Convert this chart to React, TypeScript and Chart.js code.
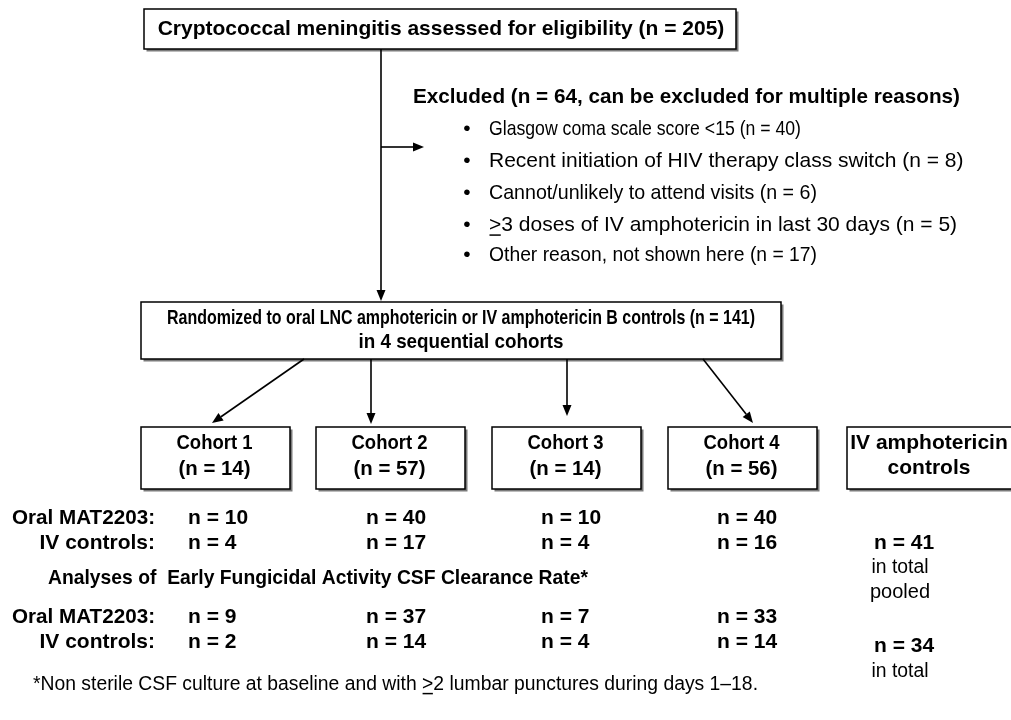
import React, { useEffect, useRef } from "react";
import { Chart, registerables } from "chart.js";

Chart.register(...registerables);

// ---- data ----
const screenedTitle = "Cryptococcal meningitis assessed for eligibility";
const screenedN = 205;
const excludedN = 64;
const exclusionReasons = [
  "Glasgow coma scale score <15",
  "Recent initiation of HIV therapy class switch",
  "Cannot/unlikely to attend visits",
  ">3 doses of IV amphotericin in last 30 days",
  "Other reason, not shown here",
];
const exclusionCounts = [40, 8, 6, 5, 17];
const randomizedN = 141;
const cohortNames = ["Cohort 1", "Cohort 2", "Cohort 3", "Cohort 4"];
const cohortTotals = [14, 57, 14, 56];
const enrolledOral = [10, 40, 10, 40];
const enrolledIV = [4, 17, 4, 16];
const efaOral = [9, 37, 7, 33];
const efaIV = [2, 14, 4, 14];
const pooledIVEnrolled = 41;
const pooledIVEfa = 34;

// ---- layout (in data units of a 1011 x 720 canvas) ----
const W = 1011;
const H = 720;
const FONT = "'Liberation Sans', Arial, Helvetica, sans-serif";

const flowPlugin = {
  id: "flow",
  afterDraw(chart: any) {
    const ctx: CanvasRenderingContext2D = chart.ctx;
    const sx = chart.scales.x;
    const sy = chart.scales.y;
    const X = (v: number) => sx.getPixelForValue(v);
    const Y = (v: number) => sy.getPixelForValue(v);

    ctx.save();
    ctx.fillStyle = "#fff";
    ctx.fillRect(0, 0, chart.width, chart.height);

    const box = (x0: number, y0: number, x1: number, y1: number) => {
      const a = X(x0), b = Y(y0), c = X(x1), d = Y(y1);
      ctx.fillStyle = "#7a7a7a";
      ctx.fillRect(a + 2.5, b + 2.5, c - a, d - b);
      ctx.fillStyle = "#fff";
      ctx.fillRect(a, b, c - a, d - b);
      ctx.strokeStyle = "#000";
      ctx.lineWidth = 1.5;
      ctx.strokeRect(a, b, c - a, d - b);
    };
    const setFont = (bold: boolean, size: number) => {
      ctx.font = `${bold ? "bold " : ""}${size}px ${FONT}`;
    };
    const text = (
      s: string,
      x: number,
      y: number,
      align: CanvasTextAlign = "center",
      bold = true,
      size = 21,
      maxW?: number
    ) => {
      setFont(bold, size);
      ctx.fillStyle = "#000";
      ctx.textAlign = align;
      ctx.textBaseline = "middle";
      const nat = ctx.measureText(s).width;
      if (maxW !== undefined && nat > maxW) {
        ctx.fillText(s, X(x), Y(y), maxW);
        return maxW;
      }
      ctx.fillText(s, X(x), Y(y));
      return nat;
    };
    const underlineFirst = (
      s: string,
      x: number,
      y: number,
      bold: boolean,
      size: number,
      squeeze = 1
    ) => {
      setFont(bold, size);
      const w = ctx.measureText(s[0]).width * squeeze;
      ctx.strokeStyle = "#000";
      ctx.lineWidth = 1.5;
      ctx.beginPath();
      ctx.moveTo(X(x) + 0.5, Y(y) + size * 0.48);
      ctx.lineTo(X(x) + w - 0.5, Y(y) + size * 0.48);
      ctx.stroke();
    };
    const arrow = (x0: number, y0: number, x1: number, y1: number) => {
      const a = X(x0), b = Y(y0), c = X(x1), d = Y(y1);
      ctx.strokeStyle = "#000";
      ctx.fillStyle = "#000";
      ctx.lineWidth = 1.6;
      const ang = Math.atan2(d - b, c - a);
      const L = 11, Wd = 4.5;
      const bx = c - L * Math.cos(ang), by = d - L * Math.sin(ang);
      ctx.beginPath();
      ctx.moveTo(a, b);
      ctx.lineTo(bx, by);
      ctx.stroke();
      ctx.beginPath();
      ctx.moveTo(c, d);
      ctx.lineTo(bx + Wd * Math.sin(ang), by - Wd * Math.cos(ang));
      ctx.lineTo(bx - Wd * Math.sin(ang), by + Wd * Math.cos(ang));
      ctx.closePath();
      ctx.fill();
    };

    // top box
    box(144, 9, 736, 49);
    text(`${screenedTitle} (n = ${screenedN})`, 441, 29, "center", true, 21, 572);

    // main vertical + exclusion arrow
    arrow(381, 49, 381, 301);
    arrow(381, 147, 424, 147);

    text(`Excluded (n = ${excludedN}, can be excluded for multiple reasons)`, 413, 97, "left", true, 21, 547);
    const bulletYs = [129, 161, 193, 225, 255];
    const bulletW = [312, 480, 328, 480, 328];
    exclusionReasons.forEach((r, i) => {
      text("•", 467, bulletYs[i], "center", false, 21);
      const s = `${r} (n = ${exclusionCounts[i]})`;
      setFont(false, 21);
      const nat = ctx.measureText(s).width;
      const drawn = text(s, 489, bulletYs[i], "left", false, 21, bulletW[i]);
      if (r.startsWith(">")) underlineFirst(r, 489, bulletYs[i], false, 21, drawn / nat);
    });

    // randomized box
    box(141, 302, 781, 359);
    text(
      `Randomized to oral LNC amphotericin or IV amphotericin B controls (n = ${randomizedN})`,
      461,
      318,
      "center",
      true,
      21,
      588
    );
    text(`in ${cohortNames.length} sequential cohorts`, 461, 342, "center", true, 21, 205);

    // arrows to cohorts
    arrow(304, 359, 212, 423);
    arrow(371, 359, 371, 424);
    arrow(567, 359, 567, 416);
    arrow(703, 359, 753, 423);

    // cohort boxes
    const boxX = [
      [141, 290],
      [316, 465],
      [492, 641],
      [668, 817],
    ];
    cohortNames.forEach((nm, i) => {
      const [a, b] = boxX[i];
      box(a, 427, b, 489);
      text(nm, (a + b) / 2 - 1, 443, "center", true, 21, 76);
      text(`(n = ${cohortTotals[i]})`, (a + b) / 2 - 1, 469, "center", true, 21, 72);
    });
    box(847, 427, 1016, 489);
    text("IV amphotericin", 929, 443, "center", true, 21, 158);
    text("controls", 929, 468, "center", true, 21);

    // enrolment rows
    const valX = [188, 366, 541, 717];
    text("Oral MAT2203:", 155, 518, "right", true, 21, 143);
    text("IV controls:", 155, 543, "right", true, 21);
    enrolledOral.forEach((v, i) => text(`n = ${v}`, valX[i], 518, "left"));
    enrolledIV.forEach((v, i) => text(`n = ${v}`, valX[i], 543, "left"));
    text(`n = ${pooledIVEnrolled}`, 874, 543, "left");
    text("in total", 900, 567, "center", false, 20, 57);
    text("pooled", 900, 592, "center", false, 20);

    text("Analyses of  Early Fungicidal Activity CSF Clearance Rate*", 48, 578, "left", true, 21, 540);

    text("Oral MAT2203:", 155, 617, "right", true, 21, 143);
    text("IV controls:", 155, 642, "right", true, 21);
    efaOral.forEach((v, i) => text(`n = ${v}`, valX[i], 617, "left"));
    efaIV.forEach((v, i) => text(`n = ${v}`, valX[i], 642, "left"));
    text(`n = ${pooledIVEfa}`, 874, 646, "left");
    text("in total", 900, 671, "center", false, 20, 57);

    // footnote with underlined ">"
    const foot1 = "*Non sterile CSF culture at baseline and with ";
    const foot2 = ">2 lumbar punctures during days 1\u201318.";
    setFont(false, 20);
    const n1 = ctx.measureText(foot1).width;
    const n2 = ctx.measureText(foot2).width;
    const f = Math.min(1, 725 / (n1 + n2));
    text(foot1, 33, 684, "left", false, 20, n1 * f);
    const fx = sx.getValueForPixel(X(33) + n1 * f);
    text(foot2, fx, 684, "left", false, 20, n2 * f);
    underlineFirst(foot2, fx, 684, false, 20, f);

    ctx.restore();
  },
};

export default function App() {
  const ref = useRef<HTMLCanvasElement>(null);
  useEffect(() => {
    document.body.style.margin = "0";
    if (!ref.current) return;
    const chart = new Chart(ref.current, {
      type: "scatter",
      data: { datasets: [{ data: [] }] },
      options: {
        animation: false,
        responsive: false,
        maintainAspectRatio: false,
        layout: { padding: 0 },
        plugins: { legend: { display: false }, tooltip: { enabled: false } },
        scales: {
          x: { type: "linear", min: 0, max: W, display: false },
          y: { type: "linear", min: 0, max: H, reverse: true, display: false },
        },
      },
      plugins: [flowPlugin],
    });
    return () => chart.destroy();
  }, []);
  return (
    <div style={{ width: W, height: H, background: "#fff" }}>
      <canvas ref={ref} width={W} height={H} style={{ display: "block" }} />
    </div>
  );
}
